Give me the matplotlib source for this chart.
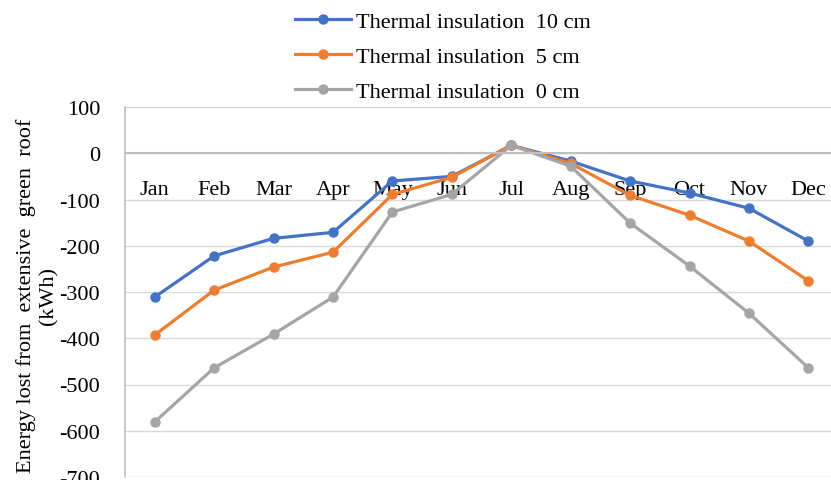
import matplotlib.pyplot as plt

plt.rcParams['font.family'] = ['Liberation Serif', 'DejaVu Serif']
plt.rcParams['axes.unicode_minus'] = False

months = ['Jan', 'Feb', 'Mar', 'Apr', 'May', 'Jun', 'Jul', 'Aug', 'Sep', 'Oct', 'Nov', 'Dec']
ins10 = [-311, -222, -184, -171, -60, -50, 17, -17, -60, -86, -119, -190]
ins5 = [-393, -296, -246, -214, -89, -52, 17, -22, -91, -134, -190, -276]
ins0 = [-581, -464, -391, -311, -127, -89, 17, -28, -151, -244, -346, -464]
labels = ['Thermal insulation  10 cm', 'Thermal insulation  5 cm', 'Thermal insulation  0 cm']
colors = ['#4472C4', '#ED7D31', '#A5A5A5']

fig = plt.figure(figsize=(8.31, 4.81), dpi=100)
ax = fig.add_axes([125/831, 3/481, 706/831, 370/481])

x = list(range(len(months)))
for vals, lab, c in zip([ins10, ins5, ins0], labels, colors):
    ax.plot(x, vals, color=c, lw=2.3, marker='o', markersize=6.5, label=lab)

ax.set_xlim(-0.5, 11.38)
ax.set_ylim(-700, 100)
ax.set_yticks(range(-700, 101, 100))
ax.yaxis.grid(True, color='#D9D9D9', lw=1)
ax.set_axisbelow(True)

for s in ['top', 'right']:
    ax.spines[s].set_visible(False)
ax.spines['left'].set_color('#BFBFBF')
ax.spines['left'].set_linewidth(1.2)
ax.spines['bottom'].set_position(('data', 0))
ax.spines['bottom'].set_color('#BFBFBF')
ax.spines['bottom'].set_linewidth(1.5)

ax.set_xticks(x)
ax.set_xticklabels(months)
ax.tick_params(axis='x', length=0, pad=19, labelsize=16)
ax.tick_params(axis='y', length=0, pad=18, labelsize=16)

fig.text(37/831, 0.385, 'Energy lost from  extensive  green  roof\n(kWh)', rotation=90,
         ha='center', va='center', fontsize=16, multialignment='center', linespacing=1.25)

fig.legend(loc='upper left', bbox_to_anchor=(284/831, 0.998), frameon=False, fontsize=16,
           handlelength=2.5, handletextpad=0.22, labelspacing=0.66, borderaxespad=0.1)

fig.savefig('out.png', dpi=100)
